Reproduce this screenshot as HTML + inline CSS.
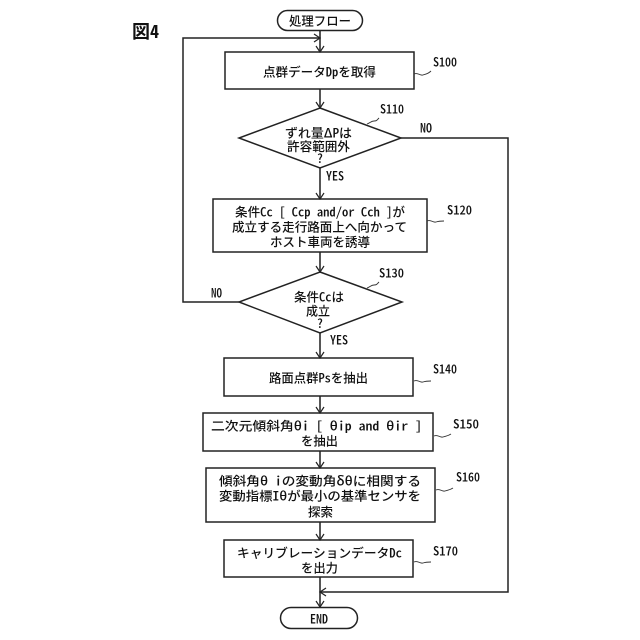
<!DOCTYPE html>
<html lang="ja">
<head>
<meta charset="utf-8">
<title>図4</title>
<style>
html,body{margin:0;padding:0;background:#fff;width:640px;height:640px;overflow:hidden}
svg{display:block}
text{font-family:"Noto Sans CJK JP","Liberation Sans",sans-serif;font-feature-settings:"hwid";font-size:12.5px;font-weight:500;fill:#111;text-anchor:start}
.l{font-size:12.500px}
.s{fill:none;stroke:#222;stroke-width:1.5}
.t{fill:none;stroke:#444;stroke-width:1.8}
.a{fill:none;stroke:#222;stroke-width:1.2}
.q{fill:none;stroke:#333;stroke-width:.9}
</style>
</head>
<body>
<svg xmlns="http://www.w3.org/2000/svg" width="640" height="640" viewBox="0 0 640 640">
<rect width="640" height="640" fill="#fff"/>

<!-- connectors -->
<path class="t" d="M320 30V52M320 89V108M320 168V199M320 252V272M320 333V358M320 396V413M320 451V468M320 522V540M320 577V607"/>
<path class="s" d="M239 302H183V38H320M401 138H508V592H320"/>

<!-- arrowheads -->
<path class="a" d="M316 46L320 52L324 46M316 102L320 108L324 102M316 193L320 199L324 193M316 266L320 272L324 266M316 352L320 358L324 352M316 407L320 413L324 407M316 462L320 468L324 462M316 534L320 540L324 534M316 601L320 607L324 601M314 34L320 38L314 42M326 588L320 592L326 596"/>

<!-- shapes -->
<rect class="s" x="277.500" y="10.500" width="85" height="20" rx="10" fill="#fff"/>
<rect class="s" x="225" y="52" width="189" height="37"/>
<polygon class="s" points="320,108 401,138 320,168 239,138"/>
<rect class="s" x="213" y="199" width="214" height="53"/>
<polygon class="s" points="320,272 402,302 320,333 239,302"/>
<rect class="s" x="224" y="358" width="189" height="38"/>
<rect class="s" x="203" y="413" width="230" height="38"/>
<rect class="s" x="206" y="468" width="229" height="54"/>
<rect class="s" x="224" y="540" width="189" height="37"/>
<rect class="s" x="280.500" y="607.500" width="77" height="21" rx="10.500" fill="#fff"/>

<!-- squiggles -->
<path class="q" d="M414 74c4-2 6 2 9 1s5-1 8-4"/>
<path class="q" d="M367 124c3-1 4-3 7-3s3-1 5-3"/>
<path class="q" d="M427 221c4-2 6 2 9 1s5-1 8-1"/>
<path class="q" d="M367 288c3-1 4-3 7-3s3-1 5-3"/>
<path class="q" d="M414 381c4-2 6 2 9 1s5-1 8-1"/>
<path class="q" d="M434 436c4-2 6 2 9 1s5-1 8-3"/>
<path class="q" d="M436 490c4-2 6 2 9 1s5-1 8-3"/>
<path class="q" d="M414 562c4-2 6 2 9 1s5-1 8-1"/>

<!-- title -->
<text x="132" y="38" style="font-size:18px;font-weight:700" textLength="27" lengthAdjust="spacingAndGlyphs">図4</text>

<!-- node text -->
<text x="289" y="25.500" textLength="62" lengthAdjust="spacingAndGlyphs">処理フロー</text>
<text x="263" y="76.500" textLength="113" lengthAdjust="spacingAndGlyphs">点群データDpを取得</text>
<text x="285" y="137.500" textLength="67" lengthAdjust="spacingAndGlyphs">ずれ量ΔPは</text>
<text x="287" y="151" textLength="63" lengthAdjust="spacingAndGlyphs">許容範囲外</text>
<text x="320" y="163" style="text-anchor:middle">?</text>
<text x="235" y="216.500" textLength="170" lengthAdjust="spacingAndGlyphs">条件Cc [ Ccp and/or Cch ]が</text>
<text x="232" y="231.500" textLength="175" lengthAdjust="spacingAndGlyphs">成立する走行路面上へ向かって</text>
<text x="270" y="246.500" textLength="100" lengthAdjust="spacingAndGlyphs">ホスト車両を誘導</text>
<text x="294" y="301.500" textLength="50" lengthAdjust="spacingAndGlyphs">条件Ccは</text>
<text x="306" y="315.500" textLength="24" lengthAdjust="spacingAndGlyphs">成立</text>
<text x="320" y="328" style="text-anchor:middle">?</text>
<text x="269" y="382.500" textLength="99" lengthAdjust="spacingAndGlyphs">路面点群Psを抽出</text>
<text x="211" y="430.500" textLength="211" lengthAdjust="spacingAndGlyphs">二次元傾斜角θi [ θip and θir ]</text>
<text x="301" y="445.500" textLength="37" lengthAdjust="spacingAndGlyphs">を抽出</text>
<text x="219" y="485.500" textLength="202" lengthAdjust="spacingAndGlyphs">傾斜角θ iの変動角δθに相関する</text>
<text x="219" y="500.500" textLength="202" lengthAdjust="spacingAndGlyphs">変動指標Iθが最小の基準センサを</text>
<text x="308" y="516.500" textLength="25" lengthAdjust="spacingAndGlyphs">探索</text>
<text x="237" y="557.500" textLength="165" lengthAdjust="spacingAndGlyphs">キャリブレーションデータDc</text>
<text x="301" y="572.500" textLength="37" lengthAdjust="spacingAndGlyphs">を出力</text>
<text x="310" y="623.500" textLength="18" lengthAdjust="spacingAndGlyphs">END</text>

<!-- step labels -->
<text class="l" x="433" y="66.500" textLength="24" lengthAdjust="spacingAndGlyphs">S100</text>
<text class="l" x="380" y="113.500" textLength="24" lengthAdjust="spacingAndGlyphs">S110</text>
<text class="l" x="447" y="214.500" textLength="25" lengthAdjust="spacingAndGlyphs">S120</text>
<text class="l" x="379" y="277.500" textLength="25" lengthAdjust="spacingAndGlyphs">S130</text>
<text class="l" x="433" y="373.500" textLength="24" lengthAdjust="spacingAndGlyphs">S140</text>
<text class="l" x="453" y="428.500" textLength="26" lengthAdjust="spacingAndGlyphs">S150</text>
<text class="l" x="456" y="481.500" textLength="24" lengthAdjust="spacingAndGlyphs">S160</text>
<text class="l" x="433" y="555.500" textLength="25" lengthAdjust="spacingAndGlyphs">S170</text>

<!-- branch labels -->
<text class="l" x="420" y="132.500" textLength="12" lengthAdjust="spacingAndGlyphs">NO</text>
<text class="l" x="326" y="180.500" textLength="18" lengthAdjust="spacingAndGlyphs">YES</text>
<text class="l" x="211" y="297.500" textLength="11" lengthAdjust="spacingAndGlyphs">NO</text>
<text class="l" x="330" y="344.500" textLength="18" lengthAdjust="spacingAndGlyphs">YES</text>
</svg>
</body>
</html>
